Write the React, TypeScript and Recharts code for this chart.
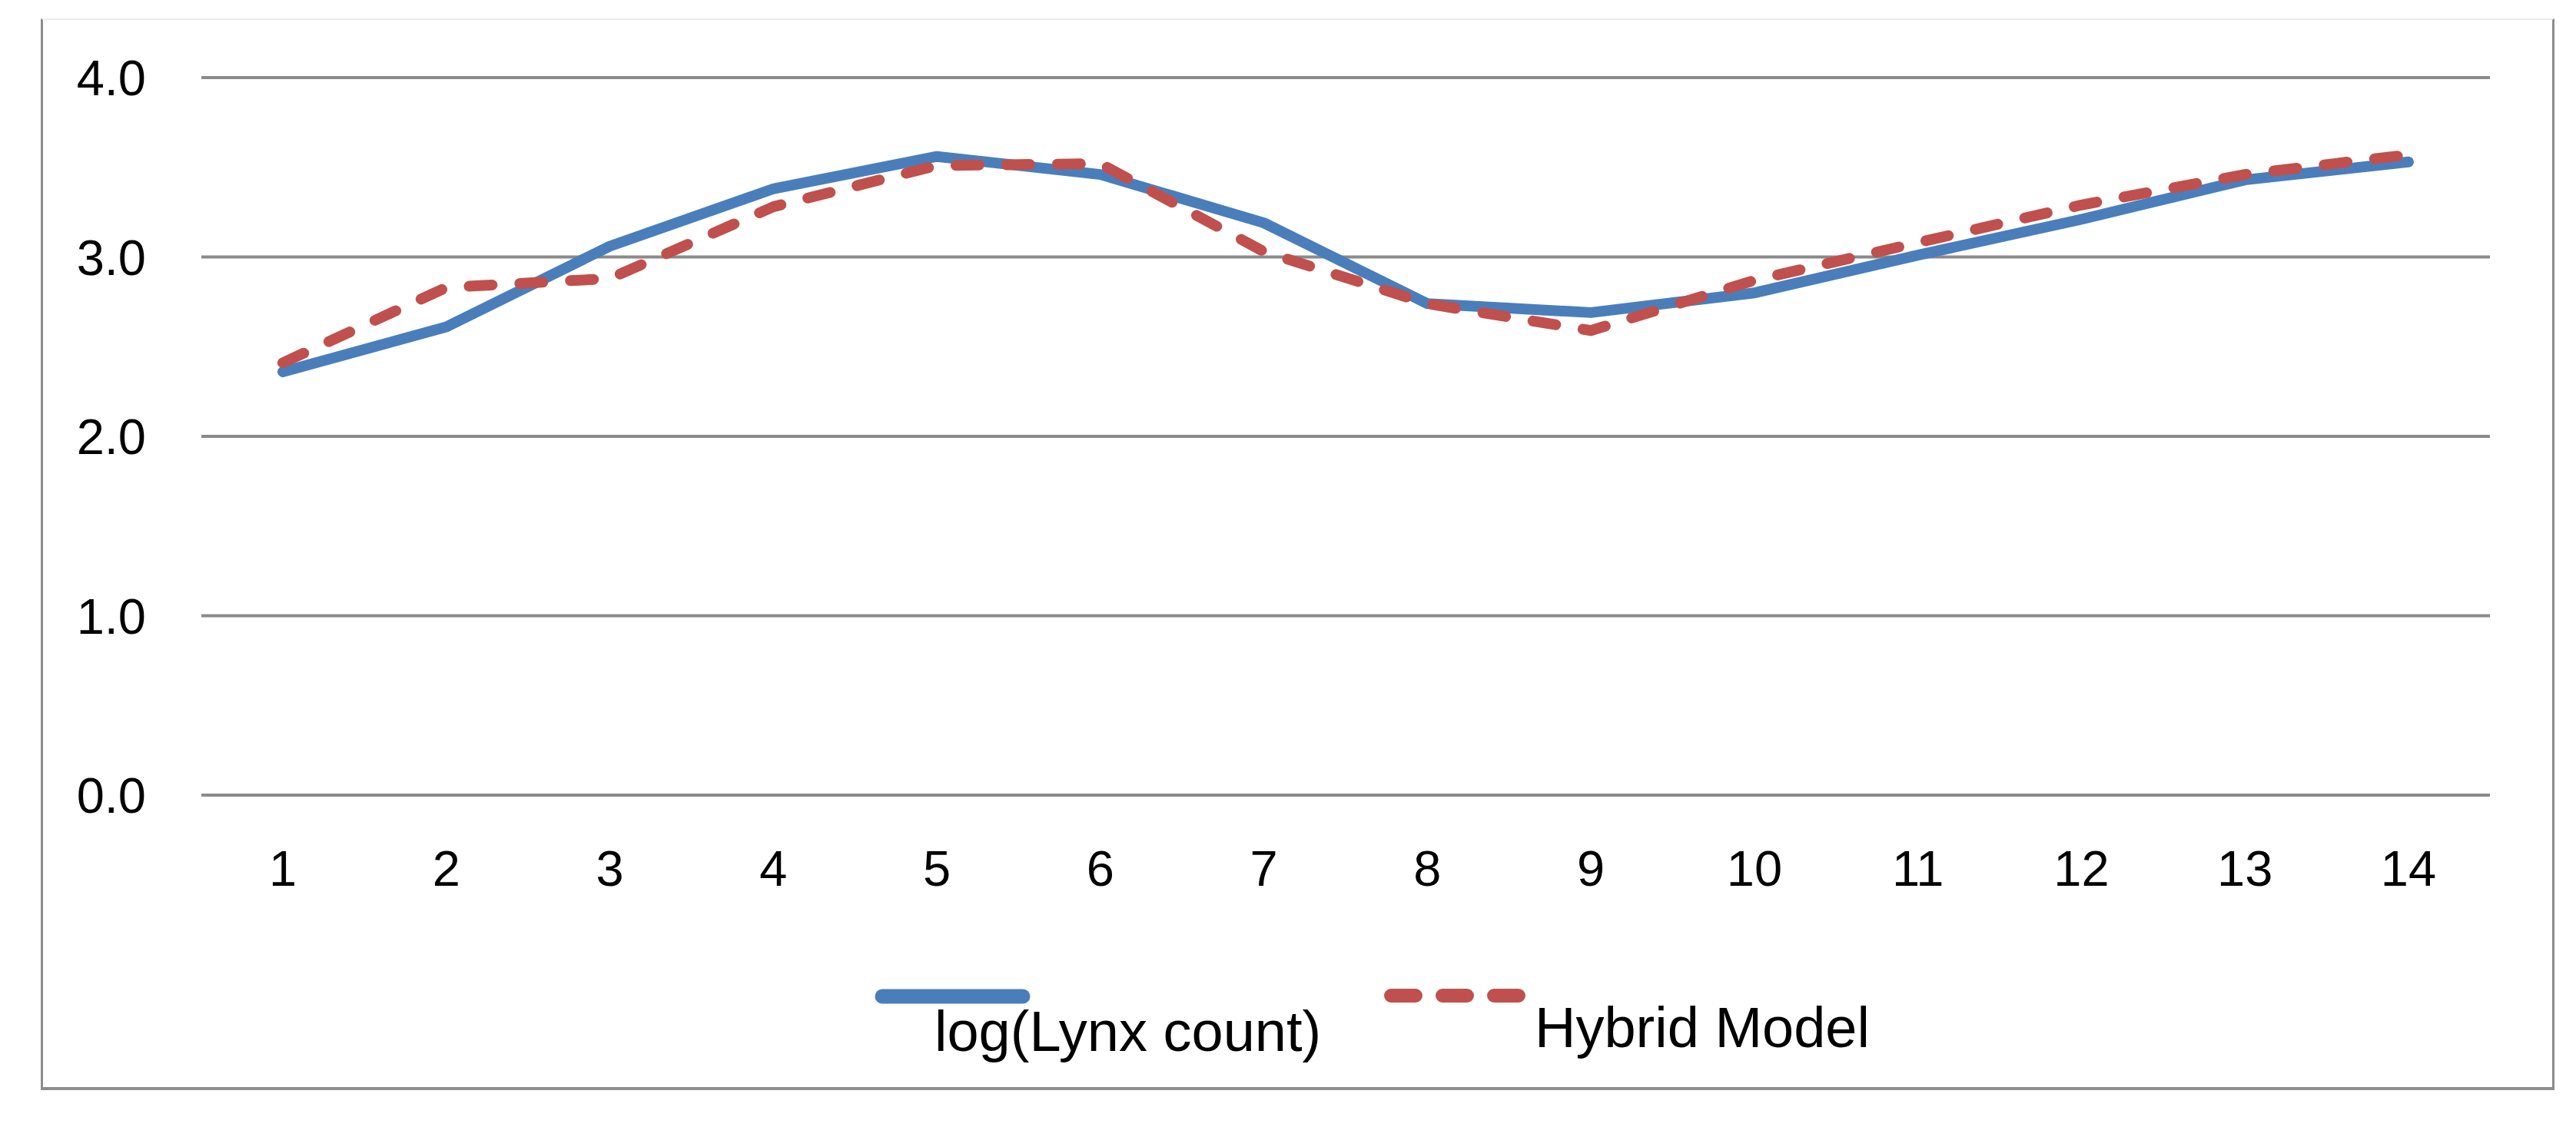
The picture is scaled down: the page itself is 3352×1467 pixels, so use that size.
import { CartesianGrid, Legend, Line, LineChart, XAxis, YAxis } from "recharts"

const periods = ["1", "2", "3", "4", "5", "6", "7", "8", "9", "10", "11", "12", "13", "14"]
const lynxLog = [2.36, 2.61, 3.06, 3.38, 3.56, 3.46, 3.19, 2.74, 2.69, 2.8, 3.01, 3.21, 3.43, 3.53]
const hybrid = [2.41, 2.83, 2.88, 3.28, 3.51, 3.52, 3.03, 2.74, 2.59, 2.87, 3.08, 3.29, 3.46, 3.57]
const yTicks = [0, 1, 2, 3, 4]

const data = periods.map((p, i) => ({ name: p, lynx: lynxLog[i], hybrid: hybrid[i] }))

const W = 3336
const H = 1440
const FONT = '"Liberation Sans", Arial, sans-serif'

function LegendBox(props: any) {
  const items = props.payload || []
  const blue = items.find((d: any) => d.dataKey === "lynx")
  const red = items.find((d: any) => d.dataKey === "hybrid")
  return (
    <svg width={1400} height={130} style={{ display: "block" }}>
      {blue && (
        <g>
          <line x1={20} x2={203} y1={29} y2={29} stroke={blue.color} strokeWidth={19} strokeLinecap="round" />
          <text x={88} y={100} fontSize={74} fontFamily={FONT} fill="#000">
            {blue.value}
          </text>
        </g>
      )}
      {red && (
        <g>
          <line x1={682} x2={848} y1={28} y2={28} stroke={red.color} strokeWidth={18} strokeDasharray="32 35" strokeLinecap="round" />
          <text x={869} y={95} fontSize={74} fontFamily={FONT} fill="#000">
            {red.value}
          </text>
        </g>
      )}
    </svg>
  )
}

export default function App() {
  return (
    <div style={{ position: "relative", width: W, height: H, background: "#fff" }}>
      <div
        style={{
          position: "absolute",
          left: 45,
          top: 16,
          width: 3271,
          height: 1395,
          boxSizing: "border-box",
          borderLeft: "3px solid #8c8c8c",
          borderRight: "3px solid #8c8c8c",
          borderBottom: "4px solid #8c8c8c",
          borderTop: "2px solid #ececec",
        }}
      />
      <div style={{ position: "absolute", left: 0, top: 0 }}>
        {/* legend height is reserved by recharts, so bottom margin is reduced by it */}
        <LineChart width={W} height={H} data={data} margin={{ top: 93, right: 104, bottom: 133, left: 0 }}>
          <CartesianGrid vertical={false} stroke="#8a8a8a" strokeWidth={4} />
          <XAxis
            dataKey="name"
            axisLine={false}
            tickLine={false}
            tickSize={0}
            tickMargin={72}
            height={150}
            padding={{ left: 106, right: 106 }}
            interval={0}
            tick={{ fontSize: 65, fontFamily: FONT, fill: "#000" }}
          />
          <YAxis
            domain={[0, 4]}
            ticks={yTicks}
            tickFormatter={(v) => v.toFixed(1)}
            axisLine={false}
            tickLine={false}
            tickSize={0}
            tickMargin={72}
            width={254}
            tick={{ fontSize: 65, fontFamily: FONT, fill: "#000" }}
          />
          <Legend
            content={LegendBox}
            wrapperStyle={{ position: "absolute", left: 1120, top: 1260, width: 1400, height: 130 }}
          />
          <Line
            type="linear"
            dataKey="lynx"
            name="log(Lynx count)"
            stroke="#4a7ebb"
            strokeWidth={14}
            strokeLinecap="round"
            strokeLinejoin="round"
            dot={false}
            activeDot={false}
            isAnimationActive={false}
          />
          <Line
            type="linear"
            dataKey="hybrid"
            name="Hybrid Model"
            stroke="#c0504d"
            strokeWidth={14}
            strokeDasharray="30 36"
            strokeLinecap="round"
            strokeLinejoin="round"
            dot={false}
            activeDot={false}
            isAnimationActive={false}
          />
        </LineChart>
      </div>
    </div>
  )
}
